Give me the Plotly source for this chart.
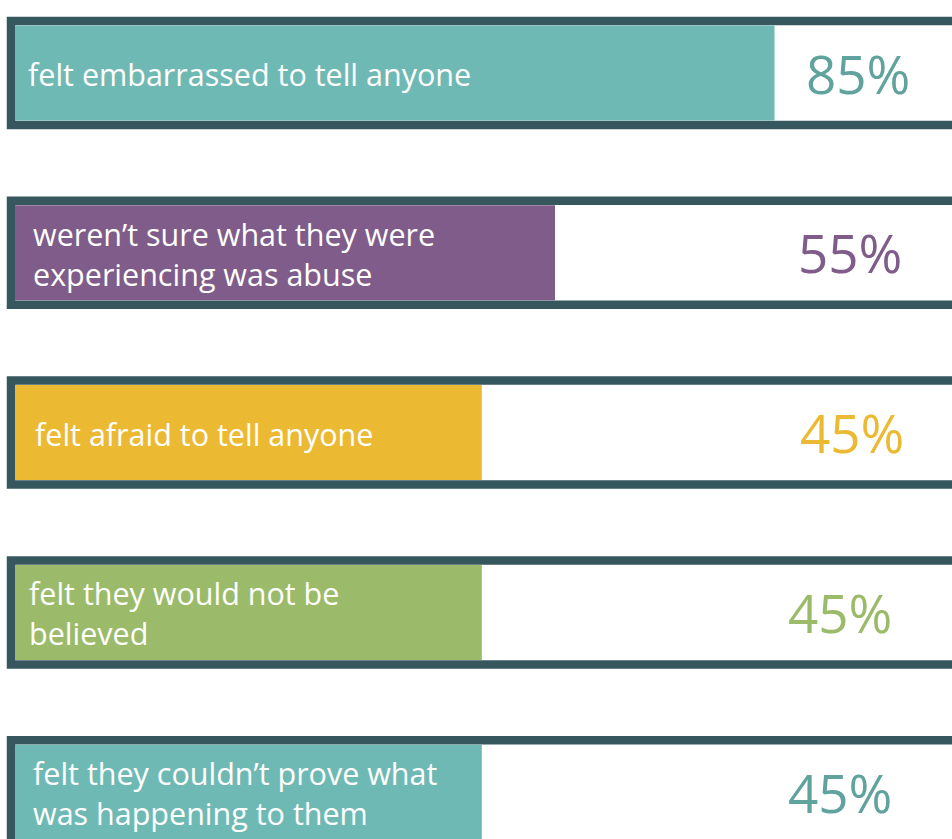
import plotly.graph_objects as go

# ---- data ----
labels = [
    "felt embarrassed to tell anyone",
    "weren\u2019t sure what they were<br>experiencing was abuse",
    "felt afraid to tell anyone",
    "felt they would not be<br>believed",
    "felt they couldn\u2019t prove what<br>was happening to them",
]
values = [85, 55, 45, 45, 45]
value_text = ["85%", "55%", "45%", "45%", "45%"]
bar_colors = ["#6fb9b4", "#7f5c89", "#ecb933", "#9bbb6a", "#6fb9b4"]
text_colors = ["#5fa39c", "#7f5c89", "#ecb933", "#9bbb6a", "#5fa39c"]

# ---- layout constants ----
W, H = 952, 839
PX_PER_UNIT = 7.317
BAR_OFFSET = 18.8        # bars start left of zero (infographic baseline)
BAR_LEFT_PX = 15
PITCH = 179.8
CENTER0 = 73.0
FRAME_COLOR = "#37575f"
FRAME_LW = 8.5
label_left_px = [26, 31, 33, 27, 31]
pct_center_px = [858, 850, 852, 840, 840]

x_min = -BAR_LEFT_PX / PX_PER_UNIT - BAR_OFFSET
x_max = (W - BAR_LEFT_PX) / PX_PER_UNIT - BAR_OFFSET
frame_base = (11 - BAR_LEFT_PX) / PX_PER_UNIT - BAR_OFFSET
y_top = -CENTER0 / PITCH
y_bot = (H - CENTER0) / PITCH

fig = go.Figure()
# frames
fig.add_trace(go.Bar(
    y=labels, x=[x_max + 10 - frame_base] * len(labels), base=frame_base,
    orientation="h", width=104 / PITCH,
    marker=dict(color="white", line=dict(color=FRAME_COLOR, width=FRAME_LW)),
    hoverinfo="skip", showlegend=False,
))
# value bars
fig.add_trace(go.Bar(
    y=labels, x=[v + BAR_OFFSET for v in values], base=-BAR_OFFSET,
    orientation="h", width=95 / PITCH,
    marker=dict(color=bar_colors, line=dict(width=0)),
    hoverinfo="skip", showlegend=False,
))

annotations = []
for i, lab in enumerate(labels):
    annotations.append(dict(
        x=label_left_px[i] / W, xref="paper", y=lab, yref="y", yshift=-1,
        text=lab, showarrow=False, xanchor="left", yanchor="middle", align="left",
        font=dict(family="Open Sans", size=30.5, color="white"),
    ))
    annotations.append(dict(
        x=pct_center_px[i] / W, xref="paper", y=lab, yref="y",
        text=value_text[i], showarrow=False, xanchor="center", yanchor="middle",
        font=dict(family="Open Sans", size=53, color=text_colors[i]),
    ))

fig.update_layout(
    width=W, height=H,
    margin=dict(l=0, r=0, t=0, b=0),
    paper_bgcolor="white", plot_bgcolor="white",
    barmode="overlay",
    xaxis=dict(range=[x_min, x_max], visible=False, fixedrange=True),
    yaxis=dict(range=[y_bot, y_top], visible=False, type="category",
               categoryorder="array", categoryarray=labels, fixedrange=True),
    annotations=annotations,
)

fig.write_html(
    "out.html",
    config={"displayModeBar": False},
    post_script="document.body.style.margin='0';document.body.style.overflow='hidden';",
)
